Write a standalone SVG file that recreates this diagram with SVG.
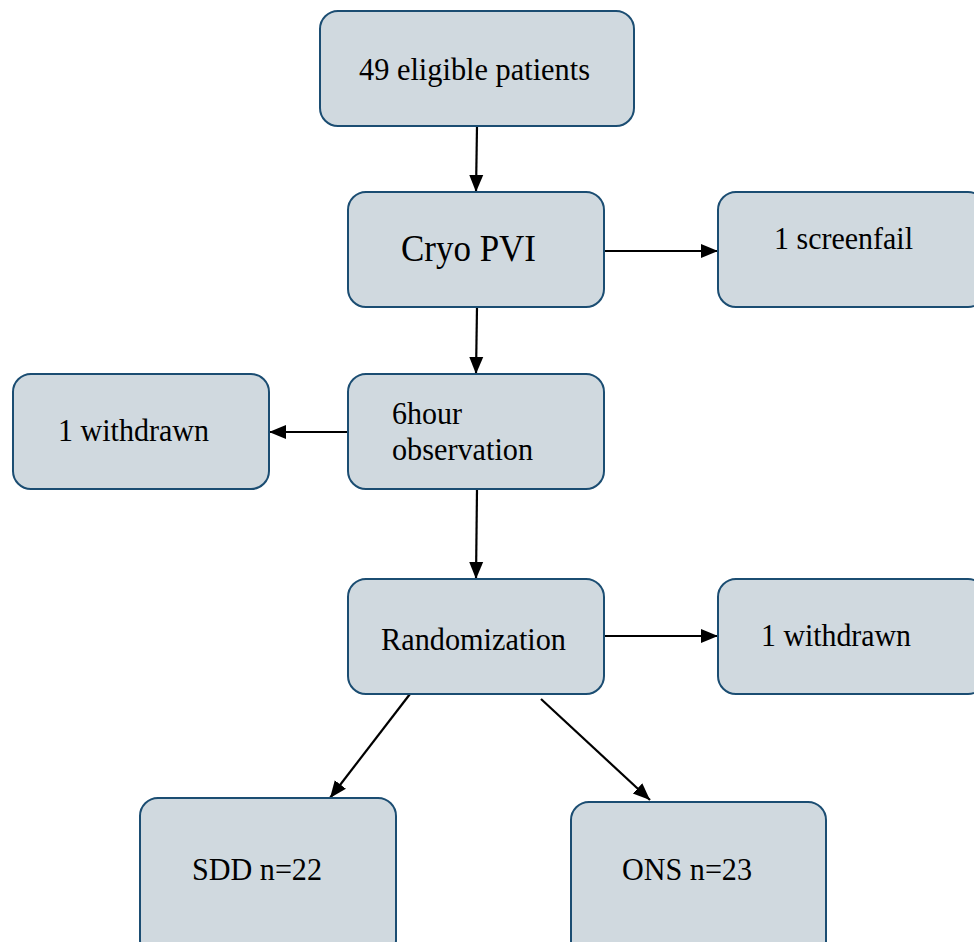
<svg xmlns="http://www.w3.org/2000/svg" width="974" height="942" viewBox="0 0 974 942">
<defs>
<style>
.box{fill:#d0d9df;stroke:#1b4d72;stroke-width:2}
.t{font-family:"Liberation Serif","Times New Roman",serif;font-size:32px;fill:#000}
.big{font-size:37px}
.c{stroke:#000;stroke-width:2.2;fill:none;marker-end:url(#ah)}
</style>
<marker id="ah" markerUnits="userSpaceOnUse" markerWidth="18" markerHeight="16" refX="17" refY="8" orient="auto">
<path d="M0,1 L17,8 L0,15 Z" fill="#000"/>
</marker>
</defs>
<rect width="974" height="942" fill="#fff"/>
<g id="connectors">
<line class="c" x1="477" y1="126" x2="476" y2="192"/>
<line class="c" x1="604" y1="251" x2="718" y2="251"/>
<line class="c" x1="477" y1="307" x2="476" y2="374"/>
<line class="c" x1="348" y1="432" x2="269" y2="432"/>
<line class="c" x1="477" y1="489" x2="476" y2="579"/>
<line class="c" x1="604" y1="636" x2="718" y2="636"/>
<line class="c" x1="410" y1="694" x2="330" y2="798"/>
<line class="c" x1="541" y1="699" x2="650" y2="800"/>
</g>
<g id="n-eligible">
<rect class="box" x="320" y="11" width="314" height="115" rx="18"/>
<text class="t" x="359" y="80" textLength="231" lengthAdjust="spacingAndGlyphs">49 eligible patients</text>
</g>
<g id="n-cryo">
<rect class="box" x="348" y="192" width="256" height="115" rx="18"/>
<text class="t big" x="401" y="261" textLength="135" lengthAdjust="spacingAndGlyphs">Cryo PVI</text>
</g>
<g id="n-screenfail">
<rect class="box" x="718" y="192" width="268" height="115" rx="18"/>
<text class="t" x="774" y="249" textLength="139" lengthAdjust="spacingAndGlyphs">1 screenfail</text>
</g>
<g id="n-withdrawn1">
<rect class="box" x="13" y="374" width="256" height="115" rx="18"/>
<text class="t" x="58" y="441" textLength="151" lengthAdjust="spacingAndGlyphs">1 withdrawn</text>
</g>
<g id="n-observation">
<rect class="box" x="348" y="374" width="256" height="115" rx="18"/>
<text class="t" x="392" y="424" textLength="70" lengthAdjust="spacingAndGlyphs">6hour</text>
<text class="t" x="392" y="460" textLength="141" lengthAdjust="spacingAndGlyphs">observation</text>
</g>
<g id="n-randomization">
<rect class="box" x="348" y="579" width="256" height="115" rx="18"/>
<text class="t" x="381" y="650" textLength="185" lengthAdjust="spacingAndGlyphs">Randomization</text>
</g>
<g id="n-withdrawn2">
<rect class="box" x="718" y="579" width="268" height="115" rx="18"/>
<text class="t" x="761" y="646" textLength="150" lengthAdjust="spacingAndGlyphs">1 withdrawn</text>
</g>
<g id="n-sdd">
<rect class="box" x="140" y="798" width="256" height="160" rx="18"/>
<text class="t" x="192" y="880" textLength="130" lengthAdjust="spacingAndGlyphs">SDD n=22</text>
</g>
<g id="n-ons">
<rect class="box" x="571" y="802" width="255" height="160" rx="18"/>
<text class="t" x="622" y="880" textLength="130" lengthAdjust="spacingAndGlyphs">ONS n=23</text>
</g>
</svg>
